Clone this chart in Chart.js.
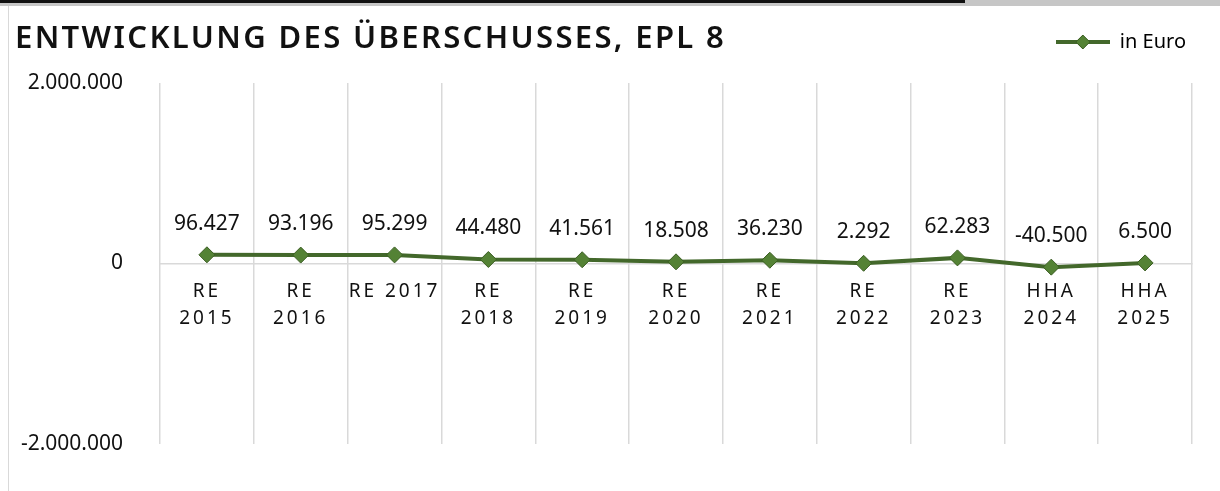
<!DOCTYPE html>
<html lang="de">
<head>
<meta charset="utf-8">
<title>Entwicklung des Überschusses, EPL 8</title>
<script src="https://cdn.jsdelivr.net/npm/chart.js@4.4.1/dist/chart.umd.min.js"></script>
<style>
  html, body { margin:0; padding:0; background:#fff; }
  #wrap { position:relative; width:1220px; height:491px; overflow:hidden; }
  #topband { position:absolute; left:0; top:0; width:1220px; height:6px; background:#c6c6c6; }
  #topbar { position:absolute; left:0; top:0; width:965px; height:3px; background:#111; }
  #frame { position:absolute; left:8px; top:6px; width:1px; height:485px; background:#d9d9d9; }
  #title { position:absolute; left:15px; top:21px; font-family:"Noto Sans", sans-serif; font-size:31px; line-height:31px;
           font-weight:600; letter-spacing:2.35px; color:#111; white-space:nowrap; }
  canvas { position:absolute; left:0; top:0; }
</style>
</head>
<body>
<div id="wrap">
  <canvas id="chart" width="1220" height="491"></canvas>
  <div id="topband"></div>
  <div id="topbar"></div>
  <div id="frame"></div>
  <div id="title">ENTWICKLUNG DES ÜBERSCHUSSES, EPL 8</div>
</div>
<script>
// data
const CATEGORIES = [['RE','2015'], ['RE','2016'], 'RE 2017', ['RE','2018'], ['RE','2019'], ['RE','2020'],
                    ['RE','2021'], ['RE','2022'], ['RE','2023'], ['HHA','2024'], ['HHA','2025']];
const SERIES_NAME = 'in Euro';
const VALUES = [96427, 93196, 95299, 44480, 41561, 18508, 36230, 2292, 62283, -40500, 6500];
const Y_TICKS = [-2000000, 0, 2000000];

const LINE = '#43682b';
const MARKER = '#548235';
const MARKER_EDGE = '#3b5e23';
const FONT = '"Noto Sans", sans-serif';
const fmt = v => v.toLocaleString('de-DE');

// legend symbol: line with a diamond in the middle
function legendSymbol(){
  const c = document.createElement('canvas');
  c.width = 54; c.height = 18;
  const g = c.getContext('2d');
  g.strokeStyle = LINE; g.lineWidth = 4;
  g.beginPath(); g.moveTo(0, 9); g.lineTo(54, 9); g.stroke();
  g.fillStyle = MARKER; g.strokeStyle = MARKER_EDGE; g.lineWidth = 1;
  g.beginPath(); g.moveTo(27, 2); g.lineTo(34, 9); g.lineTo(27, 16); g.lineTo(20, 9); g.closePath();
  g.fill(); g.stroke();
  return c;
}

// extra room under the legend so the plot starts lower; legend nudged right
const legendGap = {
  id: 'legendGap',
  beforeUpdate(chart){
    const lg = chart.legend;
    if(!lg || lg._gap) return;
    const orig = lg.fit.bind(lg);
    lg.fit = () => { orig(); lg.height += 21; };
    lg._gap = true;
  },
  afterLayout(chart){
    const lg = chart.legend;
    if(lg){ lg.left += 4; lg.right += 4; }
  }
};

// letter-spaced category labels
const spacedTicks = {
  id: 'spacedTicks',
  beforeDraw(chart){
    const x = chart.scales.x;
    if(x._spaced) return;
    const orig = x.drawLabels.bind(x);
    x.drawLabels = (area) => {
      chart.ctx.save();
      chart.ctx.letterSpacing = '3px';
      orig(area);
      chart.ctx.restore();
    };
    x._spaced = true;
  }
};

// value labels above the points
const valueLabels = {
  id: 'valueLabels',
  afterDatasetsDraw(chart){
    const ctx = chart.ctx;
    const meta = chart.getDatasetMeta(0);
    ctx.save();
    ctx.font = '21px ' + FONT;
    ctx.fillStyle = '#111';
    ctx.textAlign = 'center';
    ctx.textBaseline = 'middle';
    meta.data.forEach((pt, i) => {
      ctx.fillText(fmt(VALUES[i]), pt.x, pt.y - 31);
    });
    ctx.restore();
  }
};

new Chart(document.getElementById('chart'), {
  type: 'line',
  data: {
    labels: CATEGORIES,
    datasets: [{
      label: SERIES_NAME,
      data: VALUES,
      borderColor: LINE,
      borderWidth: 4,
      backgroundColor: MARKER,
      pointStyle: 'rectRot',
      pointRadius: 8,
      pointBackgroundColor: MARKER,
      pointBorderColor: MARKER_EDGE,
      pointBorderWidth: 1,
      tension: 0,
      fill: false
    }]
  },
  options: {
    responsive: false,
    animation: false,
    layout: { padding: { top: 22, right: 28, bottom: 47, left: 0 } },
    plugins: {
      title: { display: false },
      tooltip: { enabled: false },
      legend: {
        position: 'top',
        align: 'end',
        labels: {
          usePointStyle: true,
          pointStyleWidth: 54,
          padding: 10,
          color: '#111',
          font: { family: FONT, size: 20 },
          generateLabels: (chart) => [{
            text: SERIES_NAME,
            pointStyle: legendSymbol(),
            fillStyle: MARKER,
            strokeStyle: LINE,
            lineWidth: 0,
            datasetIndex: 0
          }]
        }
      }
    },
    scales: {
      x: {
        position: { y: 0 },
        offset: true,
        grid: { display: true, offset: true, color: '#d9d9d9', lineWidth: 1.5, drawTicks: false },
        border: { display: true, color: '#d9d9d9', width: 1.5 },
        ticks: { color: '#111', font: { family: FONT, size: 19, lineHeight: 1.4 }, padding: 15, maxRotation: 0, autoSkip: false }
      },
      y: {
        min: Y_TICKS[0],
        max: Y_TICKS[Y_TICKS.length - 1],
        afterBuildTicks: (s) => { s.ticks = Y_TICKS.map(v => ({ value: v })); },
        afterFit: (s) => { s.width = 160; },
        grid: { display: false },
        border: { display: false },
        ticks: { color: '#111', font: { family: FONT, size: 21 }, padding: 29, callback: (v) => fmt(v) }
      }
    }
  },
  plugins: [legendGap, spacedTicks, valueLabels]
});
</script>
</body>
</html>
